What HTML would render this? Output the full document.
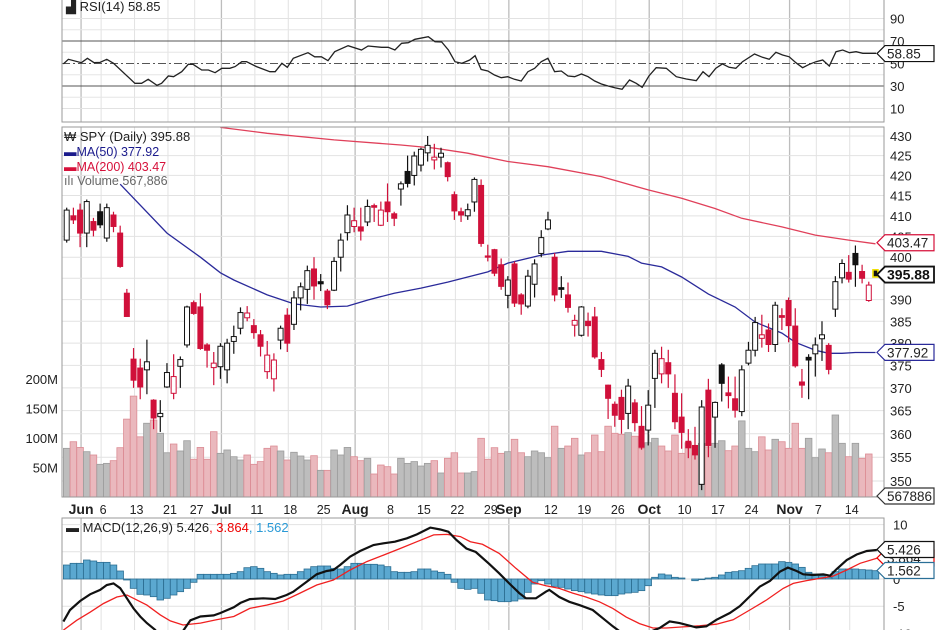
<!DOCTYPE html>
<html><head><meta charset="utf-8"><style>
html,body{margin:0;padding:0;background:#fff;}
svg{display:block;font-family:"Liberation Sans",sans-serif;}
</style></head><body>
<svg id="chart" width="936" height="630" viewBox="0 0 936 630" xmlns="http://www.w3.org/2000/svg">
<defs>
<clipPath id="cpMain"><rect x="62" y="127" width="822" height="370"/></clipPath>
<clipPath id="cpRsi"><rect x="62" y="0" width="822" height="122"/></clipPath>
<clipPath id="cpMacd"><rect x="62" y="518" width="822" height="112"/></clipPath>
</defs>
<g id="grid"></g>
<g id="vol" clip-path="url(#cpMain)"></g>
<g id="ma" clip-path="url(#cpMain)"></g>
<g id="candles" clip-path="url(#cpMain)"></g>
<g id="rsi" clip-path="url(#cpRsi)"></g>
<g id="macd" clip-path="url(#cpMacd)"></g>
<g id="axes"></g>

<text x="66" y="11" font-size="13" fill="#222">▟ RSI(14) 58.85</text>
<text x="64" y="141" font-size="13" fill="#222">₩ SPY (Daily) 395.88</text>
<text x="64" y="156" font-size="12.5" fill="#1a1a8c">▬MA(50) 377.92</text>
<text x="64" y="171" font-size="12.5" fill="#d6103a">▬MA(200) 403.47</text>
<text x="64" y="185" font-size="12.5" fill="#666">ılı Volume 567,886</text>
<text x="66" y="532" font-size="13" fill="#222">▬ MACD(12,26,9) 5.426<tspan fill="#e00">, 3.864</tspan><tspan fill="#2a9ad6">, 1.562</tspan></text>
</svg>
<script>
const opens=[404.1,410,411.4,405.8,408.6,411,404.6,410.2,405.8,391.5,376.4,374.4,374,367.3,363.7,370.2,368.8,374.8,379.6,389.3,388.3,379.6,374.5,374.7,374,380.4,383.4,385.8,384,381.9,373.6,372,380.7,386.4,384.3,390.4,392.4,397.2,394.2,392,392.2,400,405.9,407.4,407.3,408.5,412.5,407.7,413.4,410.5,416.6,421,420,422.6,425.7,423.9,424.6,423.2,415.2,411,410,413.4,417.5,400.3,401.8,398.2,391,398.4,391.1,388.5,393.6,400.9,406.8,400,392.8,391.1,384.1,381.8,385,386,376.3,370.6,366.4,367.9,364.4,366.7,361.6,360.8,372.1,373.1,375.6,368.8,363.6,358.4,357.5,349.3,369.5,363.6,375.1,368.9,367.6,364.8,375.5,378.4,381.1,383,379.7,386.3,389.8,383.9,371.3,376.8,377.6,381,379.5,387.8,395.1,396.4,400.9,396.6,389.8,397];
const highs=[412,412,413,414,409.5,413,413,411,407.6,392.5,378.9,376.5,380.8,367.5,367.3,375.5,377.5,377,388.6,389.8,391.5,380,378,380,381,384,388.2,388.5,385.5,383,380.5,377.7,384,388,392,394,398,400,396,392.5,400,405.7,412.6,412,412,414,413,413.5,418,411,418.5,425,426,427,430,428,427,423.5,416,412,413,419.5,419,403,402,399.7,395.5,399,391.5,397,399.5,406.5,411,401,395.5,394,386.5,388.5,387,388.3,378,370.7,367,369.6,372,367.5,366,369.5,378.5,379.2,378.5,373,368.8,361,361.5,367.3,372,367,375.5,372.5,372.5,375,380.3,386,386.5,384.5,389.5,388,390.5,388,374.2,377.5,381.3,385,380,395.5,399.5,400.5,402.8,398.2,394.2,397];
const lows=[403.5,408,402.4,402.4,405,407,403.7,406,397.5,386,370,367.5,368.6,361,360.4,370,367.5,370,379,386.5,378.5,374.5,370.6,372,371,377.6,382,385,381,377,372,369.2,378.6,378,383,387.5,389,390,392,387.8,392,396.6,404,406,404,407.5,408.5,407.5,408.5,407.5,412.5,417,417.5,421,423.5,421.5,422,418.5,409,408.5,409,411,402.5,399,395.5,392.3,388,388.3,386.5,388,390.5,400,406.5,389.6,390.4,387,381.5,381.5,381.5,376.5,372.4,363.2,361.5,360,361,360.5,356.6,357.5,365.6,371,370,361,356.8,354.8,354.5,348.1,355,357,367,365.5,363.5,363.8,375,377,379,378,378,383,380.2,374.5,367.8,367.5,372.5,376,373,386,393.8,394,393,393.8,389.5,395.3];
const closes=[411.4,409,405.8,413.5,406.5,407.8,412,407.4,397.8,386.1,371.7,370.2,375.8,363.4,364.4,373.4,372.5,376.3,388.3,386.8,378.8,378.4,375.5,379.3,380,381.5,387,386.9,382.4,379.3,377.3,376.2,383.4,380,390.4,393,396.8,393.2,393.7,388.8,399,404.1,410.2,408.8,406.3,412.3,412.1,411.4,411,409.4,417.9,418,424.9,426.6,427.6,424.6,425.6,419.7,411.2,410.2,411.5,419,403.3,400,396.2,393.1,394.6,389.2,389,395.5,398.4,404.7,409,391.1,392.4,388.2,385.2,388.3,384,376.9,374.1,367.7,364,363.1,370.4,362.4,357.1,366.2,377.7,376.5,373.1,362.6,360.3,357,355.5,365.8,357.5,366.8,371,368.3,365.1,374,378.4,384.7,381.9,379.7,388.7,385.9,384,374.9,370.6,376.2,379.6,381.9,374.1,394.2,398.5,394.8,398.2,395,393.4,395.3];
const volumes=[82.5,93.7,84,76.8,71.2,55.4,57,61.6,83.6,132,171,102,125,130.5,108,75,89.8,78,95.4,64,84,64,110.7,74,79.7,68.3,62.7,71.2,55.4,60,82.5,86.4,78,62.7,75.8,69.5,62.7,70,45.2,45.2,79.7,71.2,84,68.3,61.6,65.6,39,54.2,51.4,39,65.6,57,60,52.5,57,61.6,40.7,65.6,75,40.7,40.7,43,99.5,64,83.6,74,76.8,97.8,75,68.3,78,75,66.6,120,82.5,86.4,99.5,71.2,75,105,76.8,120,108,106,109,103,82.5,92,99.5,86.4,78,105,74,92,74,91,85,91,95.4,78.5,86.4,129,82.5,76.8,102,79.7,97.8,93.7,82.5,125,82.5,99.5,66.6,81.4,75,139,91,68.3,91,65.6,72.9,0.57];
const ma50Idx=[8,15,20,23,25,30,34,38,42,45,49,53,57,60,63,66,71,75,80,84,86,89,92,96,100,103,107,109,112,114,116,118,121];
const ma50Val=[417.8,405.8,400,396.3,394.6,391.1,389,388.3,388.5,389.9,391.5,392.7,394.1,395.3,396.5,398.6,400.5,401.4,401.4,400.2,398.6,397.7,395.3,391.3,388.3,384.8,382.3,380.2,378.4,377.7,377.7,377.9,377.9];
const ma200Idx=[23,30,40,50,55,60,66,72,80,87,92,97,101,107,112,117,121];
const ma200Val=[432.2,430.7,429,427.7,426.9,425.6,423.5,422.2,419.7,416.4,414.3,411.8,409.4,407.3,405.3,404.1,403.2];
const rsiIdx=[-0.5,0.25,2.2,3.1,4.1,5,6,7,10.2,11.2,12.2,13.5,14.2,15.2,16,17.2,18.2,18.9,20.2,21.2,22.2,23.2,24.4,25.2,26.2,26.9,28.4,30.4,31.2,32.2,33,33.9,36.1,37.1,38.1,39.1,40.1,42.1,44.1,45.1,47.1,48.1,49.1,50.1,51.1,52.1,54.1,55.1,56.1,57.1,58.1,59.1,60.3,61.1,62,63,64,65,66,67,68,69,70,71,72,73,74,75,76,77,78,79,80,81,82,83.1,84.2,85.2,86.1,87.1,88.2,89.7,91.2,92.7,94.2,95.2,96.1,97.1,98.1,99.1,100.1,101.1,102.9,104.1,105.1,106.1,107.1,108.1,109.1,110.1,111.1,112.1,113.1,114.1,115.1,116.1,117.1,118.1,119.1,121.1];
const rsiVal=[49.6,53.7,50.7,54.6,50.7,51,53.7,50.2,32.4,32.4,36,30.6,32.4,38.9,38.3,42.7,49.3,49.3,44.2,44.2,41.8,45.7,45.7,47.2,51.6,51.6,47.2,42.7,42.7,50.2,46.6,54.6,59.6,56,56,52.5,60.5,65.8,62,65.6,64.4,64.4,62,68,68.5,71.5,73.8,69.4,69.1,62,51.6,50.2,53.1,56.9,44.8,43.3,39.8,37.4,38.3,36,34.4,42.7,45.7,51.6,54.6,42.7,43.3,38.9,38.3,40.7,38.3,34.4,31.8,30,28.5,27.1,35.3,32.4,28.8,38.9,46.3,45.7,38.3,36.2,34.7,42.7,38.3,45.7,49.6,46.6,45.7,51.6,58.4,55.5,53.7,60,57.6,56,50.7,46.3,49.3,51.6,53.1,47.8,60.5,62,59.6,60.5,59.1,59.1];
const macdIdx=[-0.5,0.5,2,3.5,5,6,7,8,9,10,11,12,13.2,15,17.4,18.5,20,22,23,25,26,27.4,29.4,31.2,32.9,33.9,35.9,37.4,38.9,39.9,40.9,42.4,43.9,45.9,47.4,49.1,50.9,52.4,54.4,55.9,57.1,58.3,59.8,61.2,63.2,64.7,66.2,67.7,68.7,70.2,71.7,72.2,73.7,75.2,76.7,78.7,80.2,81.7,82.7,84.7,87.7,88.7,90.2,91.7,94.2,95.7,97.2,99.2,100.7,102.2,103.7,105.2,106.7,107.9,109.2,110.2,111.7,113.2,114.2,115.2,116.7,118.2,119.7,121.2];
const macdVal=[-7.84,-5.7,-4.04,-2.82,-2,-1.1,-0.8,-1.7,-3.55,-5.4,-6.9,-8.1,-9.3,-12,-9.55,-7.6,-6.9,-6.7,-6.25,-5.2,-4.4,-3.7,-3.55,-3.68,-2.94,-2.33,-0.49,0.86,1.47,1.65,2.57,4.1,5.15,6.25,6.56,6.86,7.48,8.2,9.44,9.1,8.7,7.16,5.6,4.96,2.8,1.04,-0.8,-2.6,-3.55,-3.55,-2.33,-2,-3.3,-4.2,-4.8,-5.7,-7.2,-8.7,-9.6,-11.5,-9.5,-9,-7.8,-8.1,-8.9,-8.7,-7.5,-6.25,-5,-3.2,-1.4,-0.37,1.35,2.1,1.47,0.86,0.74,0.86,0.61,1.84,3.5,4.5,5.15,5.33];
const sigIdx=[-0.5,1.5,3.5,5.5,7.5,9,10,12,14,15.5,17.4,20,22.4,25,27.4,29.9,32.4,34.9,37.4,39.9,42.4,44.9,47.4,49.9,52.4,54.9,56.9,58.9,60.4,62.2,64.7,67.2,69.7,71.7,73.7,75.7,77.7,79.7,81.7,83.7,85.7,87.7,89.7,92.2,94.7,97.2,99.7,102.2,104.7,107.2,108.7,110.7,112.7,114.7,116.7,118.7,121.2];
const sigVal=[-9.4,-7.6,-6.1,-4.5,-3.3,-2.94,-3.55,-4.8,-6.6,-7.7,-8.45,-8.1,-7.5,-6.9,-5.4,-4.8,-4.05,-2.6,-1.1,-0.18,1.65,3.2,4.4,5.6,6.86,8.1,8.2,7.8,6.86,6.37,4.7,1.96,-0.6,-1.23,-1.72,-2.6,-3.3,-4.2,-5.4,-7,-8.2,-9,-9,-8.8,-8.6,-8.3,-7.5,-5.7,-3.86,-1.72,-0.8,-0.3,0.12,0.55,1.65,2.88,3.8];
const histVal=[2.57,2.88,2.88,3.49,3.31,3.06,3.06,2.57,1.47,-0.18,-1.72,-2.82,-2.94,-3.25,-3.86,-3.55,-2.94,-2.33,-1.72,-0.61,0.86,0.86,0.86,0.86,0.86,1.04,1.35,2.08,2.27,1.96,1.35,1.04,0.74,0.86,0.86,1.35,1.84,2.27,2.39,2.39,1.96,1.84,2.27,2.88,2.88,2.7,2.7,2.57,2.27,1.35,1.23,1.23,1.35,1.84,1.84,1.47,1.23,0.86,-0.61,-1.72,-1.9,-1.72,-2.63,-3.86,-3.98,-4.17,-4.17,-4.04,-3.68,-2.45,-0.92,-0.31,-0.92,-1.35,-1.53,-1.84,-2.14,-2.33,-2.57,-2.76,-2.94,-3.06,-3.06,-2.76,-2.57,-2.45,-2.14,-1.23,0.31,0.92,0.74,0.31,0.18,0,-0.31,-0.12,0.18,0.31,0.74,1.23,1.35,1.53,1.96,2.45,2.76,2.76,2.76,3.19,3.06,2.76,2.14,1.23,0.92,0.61,0.31,1.35,1.84,1.84,1.84,1.72,1.65,1.53];
const priceTicks=[430,425,420,415,410,405,400,395,390,385,380,375,370,365,360,355,350];
const volTicks=[200,150,100,50];
const rsiTicks=[90,70,50,30,10];
const macdTicks=[10,5,0,-5,-10];
const dateIdx=[2,5,10,15,19,23,28,33,38,43,48,53,58,63,66,72,77,82,87,92,97,102,108,112,117];
const dateLbl=["Jun","6","13","21","27","Jul","11","18","25","Aug","8","15","22","29","Sep","12","19","26","Oct","10","17","24","Nov","7","14"];
const monthIdx=[2,23,43,66,87,108];

const NS="http://www.w3.org/2000/svg";
const X0=66.7, DX=6.684, L=62, R=884;
const xOf=i=>X0+i*DX;
const yP=p=>481-1676*Math.log(p/350);
const yV=v=>497-v*0.59;
const yR=v=>63.5-(v-50)*1.125;
const yM=v=>579-v*5.44;
function mk(tag,attrs,parent){const e=document.createElementNS(NS,tag);for(const k in attrs)e.setAttribute(k,attrs[k]);parent.appendChild(e);return e;}
const G=id=>document.getElementById(id);
const grid=G('grid'),axes=G('axes');

for(let k=0;k<dateIdx.length;k++){
  const x=xOf(dateIdx[k])+1, isM=monthIdx.includes(dateIdx[k]);
  for(const [a,b] of [[0,122],[127,497],[518,630]]){
    const ln=mk('line',{x1:x,x2:x,y1:a,y2:b,stroke:isM?'#bdbdbd':'#e2e2e2','stroke-width':isM?1.3:1},grid);
    
    
  }
  const t=mk('text',{x:isM?x:x+2,y:514,'font-size':isM?14:12.5,'font-weight':isM?'bold':'normal',fill:'#222','text-anchor':'middle'},axes);
  t.textContent=dateLbl[k];
  
  
}
for(const p of priceTicks){
  const y=yP(p);
  const ln=mk('line',{x1:L,x2:R,y1:y,y2:y,stroke:'#e2e2e2'},grid);
  
  
  const t=mk('text',{x:890,y:y+5,'font-size':13,fill:'#222'},axes);
  t.textContent=p;
  
  
}
for(const v of volTicks){
  const y=yV(v);
  const t=mk('text',{x:58,y:y+5,'font-size':13,fill:'#222','text-anchor':'end'},axes);
  t.textContent=v+'M';
  
  
}
for(const v of [80,60,40,20]){const y=yR(v);const ln=mk('line',{x1:L,x2:R,y1:y,y2:y,stroke:'#e6e6e6'},grid);
  
  }
for(const v of rsiTicks){
  const y=yR(v);
  const ln=mk('line',{x1:L,x2:R,y1:y,y2:y,stroke:(v==70||v==30||v==50)?'#555':'#e2e2e2','stroke-dasharray':v==50?'8,3,2,3':'none'},grid);
  
  
  const t=mk('text',{x:890,y:y+5,'font-size':13,fill:'#222'},axes);
  t.textContent=v;
  
  
}
for(const v of macdTicks){
  const y=yM(v);
  const ln=mk('line',{x1:L,x2:R,y1:y,y2:y,stroke:'#e2e2e2'},grid);
  
  
  const t=mk('text',{x:893,y:y+5,'font-size':13,fill:'#222'},axes);
  t.textContent=v;
  
  
}
for(const [a,b] of [[-1,122],[127,497],[518,631]]){
  const r=mk('rect',{x:L,y:a,width:R-L,height:b-a,fill:'none',stroke:'#9a9a9a'},axes);
  
  
}
const vol=G('vol');
for(let i=0;i<volumes.length;i++){
  const down=i>0&&closes[i]<closes[i-1];
  const y=yV(volumes[i]);
  const r=mk('rect',{x:xOf(i)-3.3,y:y,width:6.6,height:497-y,fill:down?'#eab8bd':'#bdbdbd',stroke:down?'#dc8c94':'#9c9c9c','stroke-width':0.8},vol);
  
  
}
function pathFrom(ix,vals,fy){return ix.map((i,k)=>(k?'L':'M')+xOf(i).toFixed(1)+','+fy(vals[k]).toFixed(1)).join('');}
const ma=G('ma');
const m50=mk('path',{d:pathFrom(ma50Idx,ma50Val,yP),fill:'none',stroke:'#2a2a9a','stroke-width':1.3},ma);


const m200=mk('path',{d:pathFrom(ma200Idx,ma200Val,yP),fill:'none',stroke:'#e0405a','stroke-width':1.3},ma);


const cg=G('candles');
for(let i=0;i<opens.length;i++){
  const o=opens[i],c=closes[i],h=highs[i],l=lows[i];
  const down=i>0&&c<closes[i-1];
  const col=down?'#d0103a':'#111';
  const filled=c<o;
  const x=xOf(i);
  const w=mk('line',{x1:x,x2:x,y1:yP(h),y2:yP(l),stroke:col,'stroke-width':1.2},cg);
  
  
  const yt=yP(Math.max(o,c)),yb=yP(Math.min(o,c));
  const last=i===opens.length-1;
  const b=mk('rect',{x:x-2.5,y:yt,width:5,height:Math.max(1.2,yb-yt),fill:filled?col:'#fff',stroke:last?'#f0e000':col,'stroke-width':last?1.6:1},cg);
  
  
}
const rg=G('rsi');
const rl=mk('path',{d:pathFrom(rsiIdx,rsiVal,yR),fill:'none',stroke:'#222','stroke-width':1.3},rg);


const mg=G('macd');
for(let i=0;i<histVal.length;i++){
  const y0=yM(0),y1=yM(histVal[i]);
  const r=mk('rect',{x:xOf(i)-3.3,y:Math.min(y0,y1),width:6.6,height:Math.abs(y1-y0),fill:'#5ba8d0',stroke:'#2c6e92','stroke-width':0.8},mg);
  
  
}
const sl=mk('path',{d:pathFrom(sigIdx,sigVal,yM),fill:'none',stroke:'#f02020','stroke-width':1.3},mg);


const ml=mk('path',{d:pathFrom(macdIdx,macdVal,yM),fill:'none',stroke:'#111','stroke-width':2.2},mg);


function tag(y,txt,col,bold,name){
  const g=mk('g',{},axes);
  
  
  mk('path',{d:`M877,${y} L885,${y-8} L934,${y-8} L934,${y+8} L885,${y+8} Z`,fill:'#fff',stroke:col,'stroke-width':bold?1.8:1.2},g);
  const t=mk('text',{x:887,y:y+5,'font-size':bold?14:13.5,'font-weight':bold?'bold':'normal',fill:bold?'#111':'#222'},g);
  t.textContent=txt;
}
tag(yP(403.47),'403.47','#d6103a',false,'ma200-value-tag');
tag(yP(377.92),'377.92','#2a2a9a',false,'ma50-value-tag');
tag(yP(395.88),'395.88','#111',true,'last-price-tag');
tag(496,'567886','#333',false,'volume-value-tag');
tag(yR(58.85),'58.85','#111',false,'rsi-value-tag');
tag(yM(3.864),'3.864','#e00',false,'signal-value-tag');
tag(yM(1.562),'1.562','#2a6f97',false,'histogram-value-tag');
tag(yM(5.426),'5.426','#111',false,'macd-value-tag');
</script>
</body></html>
